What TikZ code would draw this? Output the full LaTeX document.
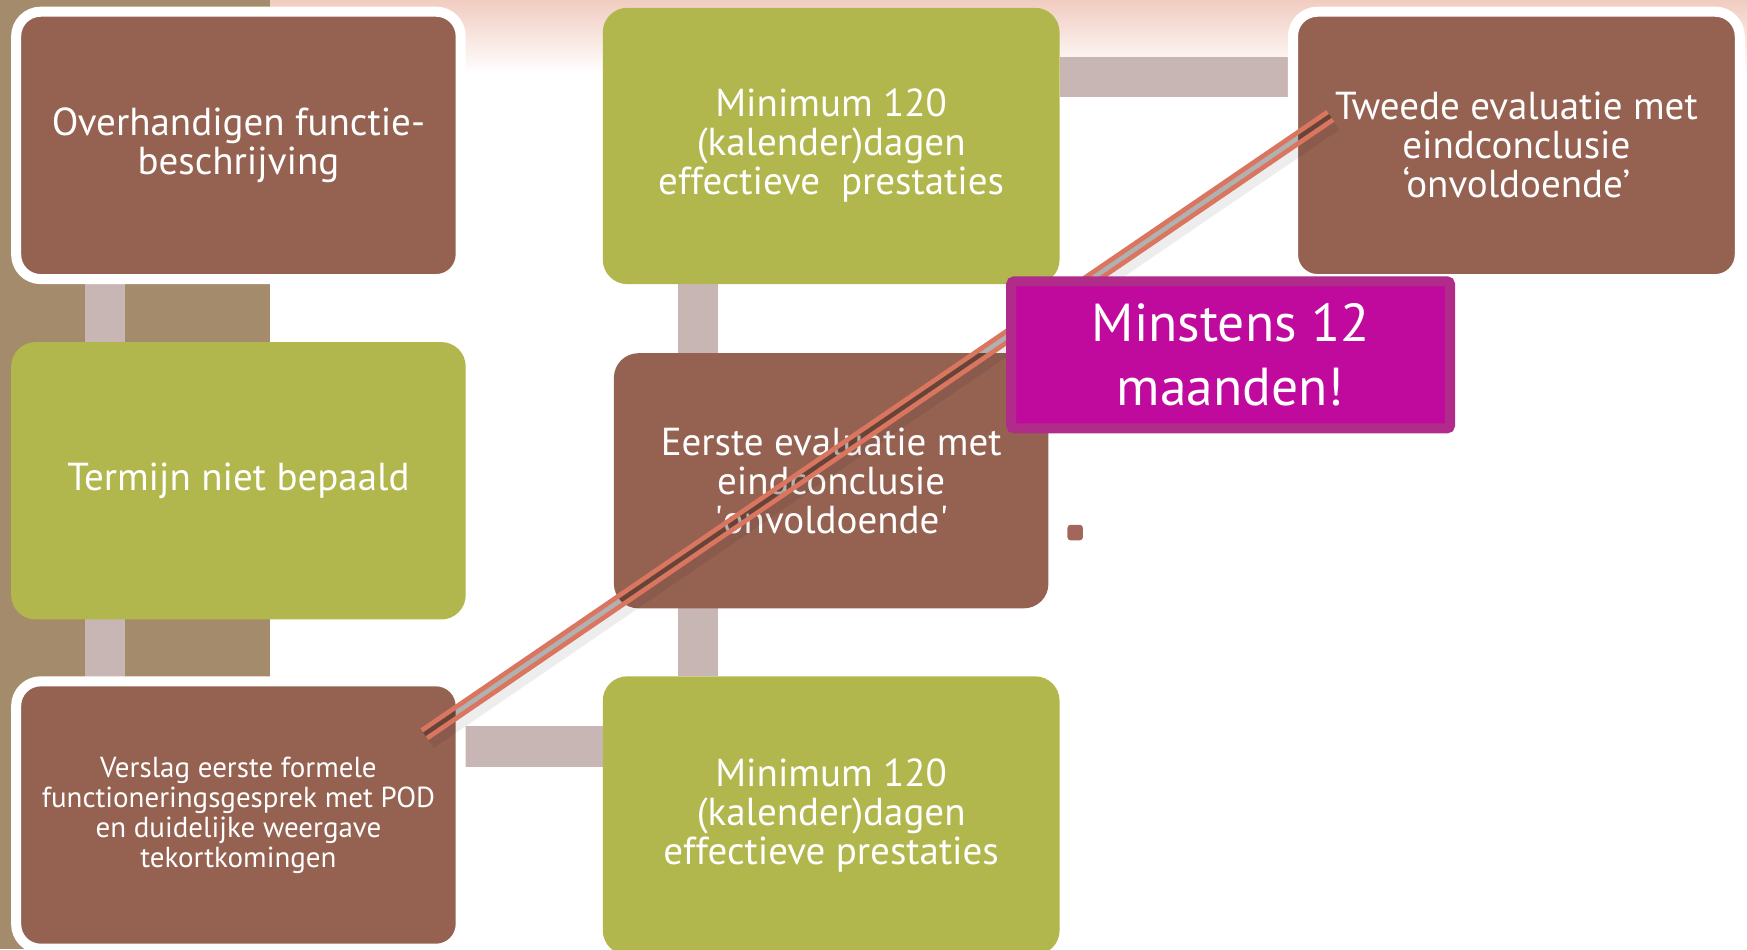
\documentclass[tikz,border=0pt]{standalone}
\usepackage{fontspec}
\setmainfont{PT Sans}
\usetikzlibrary{calc}
\definecolor{boxbrown}{HTML}{956252}
\definecolor{boxgreen}{HTML}{B1B74C}
\definecolor{tanbg}{HTML}{A38B6B}
\definecolor{connc}{HTML}{C8B6B4}
\definecolor{pinktop}{HTML}{F1CCC0}
\definecolor{magfill}{HTML}{C00A9E}
\definecolor{magedge}{HTML}{B12B8B}
\definecolor{railred}{HTML}{DA7560}
\definecolor{dotc}{HTML}{A3665A}
\pgfdeclarelayer{background}
\pgfsetlayers{background,main}
\tikzset{
  boxbase/.style={rectangle, rounded corners=22pt, align=center, text=white, inner sep=0pt, outer sep=0pt,
    font=\fontsize{35}{35}\selectfont},
  brownbox/.style={boxbase, fill=boxbrown},
  framedbox/.style={boxbase, fill=boxbrown, draw=white, line width=9pt},
  greenbox/.style={boxbase, fill=boxgreen},
  conn/.style={draw=connc, line width=36pt},
  railline/.style={draw=railred, line width=4.2pt},
  railgap/.style={draw=black, opacity=0.25, line width=5pt},
  railshadow/.style={draw=black, opacity=0.07, line width=18pt},
  magbox/.style={rectangle, rounded corners=3pt, fill=magfill, draw=magedge, line width=9pt, text=white,
    align=center, inner sep=0pt, font=\fontsize{48}{57}\selectfont},
}
\begin{document}
\begin{tikzpicture}[x=1pt, y=-1pt]
\useasboundingbox (0,0) rectangle (1568,852);
\begin{pgfonlayer}{background}
  \fill[white] (0,0) rectangle (1568,852);
  \shade[top color=pinktop, bottom color=white] (242,0) rectangle (1568,66);
  \fill[tanbg] (0,0) rectangle (242,852);
\end{pgfonlayer}

\node[framedbox, minimum width=399pt, minimum height=240pt] (b1) at (214,130.5) {Overhandigen functie-\\beschrijving};
\node[greenbox, minimum width=408pt, minimum height=249pt] (b2) at (214,431.5) {Termijn niet bepaald};
\node[framedbox, minimum width=399pt, minimum height=240pt, font=\fontsize{26}{27}\selectfont] (b3) at (214,731.5) {Verslag eerste formele\\functioneringsgesprek met POD\\en duidelijke weergave\\tekortkomingen};
\node[greenbox, minimum width=410pt, minimum height=248pt] (b4) at (746,131) {Minimum 120\\(kalender)dagen\\effectieve\ \ prestaties};
\node[brownbox, minimum width=390pt, minimum height=229pt] (b5) at (746,431.5) {Eerste evaluatie met\\eindconclusie\\\textquotesingle onvoldoende\textquotesingle};
\node[greenbox, minimum width=410pt, minimum height=250pt] (b6) at (746,732) {Minimum 120\\(kalender)dagen\\effectieve prestaties};
\node[framedbox, minimum width=401pt, minimum height=240pt] (b7) at (1361,130.5) {Tweede evaluatie met\\eindconclusie\\‘onvoldoende’};

\begin{pgfonlayer}{background}
  \draw[conn] ([xshift=-120pt]b1.south) -- ([xshift=-120pt]b2.north);
  \draw[conn] ([xshift=-120pt]b2.south) -- ([xshift=-120pt]b3.north);
  \draw[conn] ([yshift=61.5pt]b3.east) -- ([yshift=61.5pt]b3.east -| b6.west);
  \draw[conn] ([xshift=-119.5pt]b4.south) -- ([xshift=-119.5pt]b4.south |- b5.north);
  \draw[conn] ([xshift=-119.5pt]b5.south) -- ([xshift=-119.5pt]b5.south |- b6.north);
  \draw[conn] ([yshift=62pt]b4.east) -- ([yshift=62pt]b4.east -| b7.west);
\end{pgfonlayer}

\coordinate (rs) at (381,659);
\coordinate (re) at (1194,104);
\draw[railshadow] ([shift={(3pt,-5pt)}]rs) -- ([shift={(3pt,-5pt)}]re);
\draw[railgap] (rs) -- (re);
\draw[railline] ([shift={(-2.4pt,3.5pt)}]rs) -- ([shift={(-2.4pt,3.5pt)}]re);
\draw[railline] ([shift={(2.4pt,-3.5pt)}]rs) -- ([shift={(2.4pt,-3.5pt)}]re);

\node[magbox, minimum width=394pt, minimum height=132pt] (m) at (1104.5,318.5) {Minstens 12\\maanden!};

\node[rectangle, rounded corners=3pt, fill=dotc, minimum size=14pt, inner sep=0pt] (dot) at (965,478) {};
\end{tikzpicture}
\end{document}
